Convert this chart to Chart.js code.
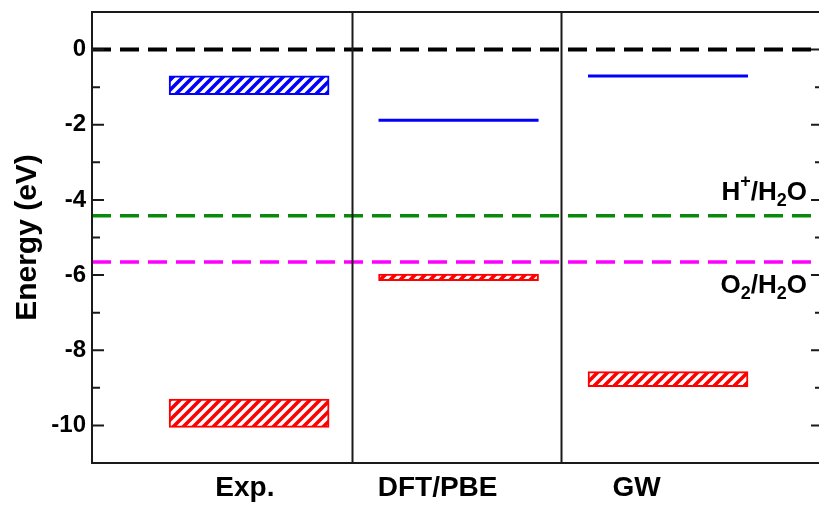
<!DOCTYPE html>
<html>
<head>
<meta charset="utf-8">
<script src="https://cdn.jsdelivr.net/npm/chart.js@4"></script>
<style>
  html, body { margin: 0; padding: 0; background: #fff; overflow: hidden; }
  #wrap { position: relative; width: 826px; height: 509px; }
</style>
</head>
<body>
<div id="wrap"><canvas id="c"></canvas></div>
<script>
// ---- data ----
const categories = ['Exp.', 'DFT/PBE', 'GW'];
// conduction band edge: a measured range for experiment, single levels for theory
const cbRange = [[-0.7, -1.2], null, null];
const cbLevel = [null, -1.88, -0.7];
// valence band edge ranges
const vbRange = [[-9.3, -10.05], [-5.97, -6.15], [-8.57, -8.97]];
// vacuum reference and water redox potentials
const refLevels = [0, -4.42, -5.65];
const refNames = ['', 'H^+/H_2O', 'O_2/H_2O'];
const refColors = ['#000000', '#0a8a0a', '#ff00ff'];
const yTicks = [-10, -8, -6, -4, -2, 0];

// ---- layout ----
const X_MIN = 0.25, X_MAX = 3.74;
const labelPos = [0.98, 1.9, 2.85];      // where the category names sit on the x axis
const levelHalf = 0.382;                 // half length of a single-level line
const dividers = [1.49, 2.49];
const refLabelShift = [0, -16, 31];      // label baseline relative to its line (px)
const FONT = "'Liberation Sans', Arial, Helvetica, sans-serif";

function hatch(color) {
  const s = 10;
  const c = document.createElement('canvas');
  c.width = s; c.height = s;
  const g = c.getContext('2d');
  g.fillStyle = '#ffffff';
  g.fillRect(0, 0, s, s);
  g.strokeStyle = color;
  g.lineWidth = 3.6;
  g.beginPath();
  g.moveTo(-s, s); g.lineTo(s, -s);
  g.moveTo(0, s * 2); g.lineTo(s * 2, 0);
  g.moveTo(0, s); g.lineTo(s, 0);
  g.stroke();
  return g.createPattern(c, 'repeat');
}

const ctx0 = document.getElementById('c').getContext('2d');
const datasets = [];

datasets.push({
  type: 'bar',
  label: 'VB',
  data: vbRange.map((r, i) => ({ x: i + 1, y: r })),
  backgroundColor: hatch('#ff0000'),
  borderColor: '#ff0000',
  borderWidth: 2,
  borderSkipped: false,
  barThickness: 160,
  grouped: false
});

datasets.push({
  type: 'bar',
  label: 'CB',
  data: cbRange.map((r, i) => r ? { x: i + 1, y: r } : null).filter(Boolean),
  backgroundColor: hatch('#0000ff'),
  borderColor: '#0000ff',
  borderWidth: 2,
  borderSkipped: false,
  barThickness: 160,
  grouped: false
});

cbLevel.forEach((v, i) => {
  if (v === null) return;
  datasets.push({
    type: 'line',
    label: 'CB ' + categories[i],
    data: [{ x: i + 1 - levelHalf, y: v }, { x: i + 1 + levelHalf, y: v }],
    borderColor: '#0000ff',
    borderWidth: 3,
    pointRadius: 0
  });
});

refLevels.forEach((v, i) => {
  datasets.push({
    type: 'line',
    label: refNames[i] || 'vacuum',
    data: [{ x: X_MIN, y: v }, { x: X_MAX, y: v }],
    borderColor: refColors[i],
    borderWidth: i === 0 ? 4 : 3.5,
    borderDash: [19, 9],
    borderCapStyle: 'butt',
    pointRadius: 0
  });
});

// frame, dividers and inward tick marks
const framePlugin = {
  id: 'frame',
  afterDatasetsDraw(chart) {
    const { ctx, chartArea: { left, right, top, bottom }, scales: { x, y } } = chart;
    ctx.save();
    ctx.strokeStyle = '#1a1a1a';
    ctx.lineWidth = 2;
    ctx.strokeRect(left, top, right - left, bottom - top);
    ctx.beginPath();
    dividers.forEach(v => {
      const px = Math.round(x.getPixelForValue(v)) + 0.5;
      ctx.moveTo(px, top); ctx.lineTo(px, bottom);
    });
    for (let v = -10; v <= 0; v++) {
      const py = y.getPixelForValue(v);
      const len = v % 2 === 0 ? 12 : 8;
      ctx.moveTo(left, py); ctx.lineTo(left + len, py);
      ctx.moveTo(right, py); ctx.lineTo(right - len, py);
    }
    ctx.stroke();
    ctx.restore();
  }
};

// redox labels with super- and subscripts (^x, _x)
function parseLabel(s) {
  const out = [];
  let i = 0;
  while (i < s.length) {
    if ((s[i] === '^' || s[i] === '_') && i + 1 < s.length) {
      out.push({ t: s[i + 1], k: s[i] === '^' ? 'sup' : 'sub' });
      i += 2;
    } else {
      if (out.length && out[out.length - 1].k === 'n') out[out.length - 1].t += s[i];
      else out.push({ t: s[i], k: 'n' });
      i++;
    }
  }
  return out;
}

const labelPlugin = {
  id: 'refLabels',
  afterDatasetsDraw(chart) {
    const { ctx, chartArea: { right }, scales: { y } } = chart;
    const big = 'bold 26px ' + FONT, small = 'bold 18px ' + FONT;
    ctx.save();
    ctx.fillStyle = '#000';
    ctx.textBaseline = 'alphabetic';
    ctx.textAlign = 'left';
    refNames.forEach((name, i) => {
      if (!name) return;
      const parts = parseLabel(name);
      let w = 0;
      parts.forEach(p => { ctx.font = p.k === 'n' ? big : small; p.w = ctx.measureText(p.t).width; w += p.w; });
      let px = right - 16 - w;
      const base = y.getPixelForValue(refLevels[i]) + refLabelShift[i];
      parts.forEach(p => {
        ctx.font = p.k === 'n' ? big : small;
        const dy = p.k === 'sup' ? -13 : p.k === 'sub' ? 6 : 0;
        ctx.fillText(p.t, px, base + dy);
        px += p.w;
      });
    });
    ctx.restore();
  }
};

new Chart(ctx0, {
  type: 'bar',
  data: { datasets },
  options: {
    responsive: true,
    maintainAspectRatio: false,
    animation: false,
    layout: { padding: { top: 12, right: 3, left: 0, bottom: 0 } },
    plugins: { legend: { display: false }, tooltip: { enabled: false } },
    scales: {
      x: {
        type: 'linear',
        min: X_MIN,
        max: X_MAX,
        offset: false,
        grid: { display: false, drawTicks: false, offset: false },
        border: { display: false },
        afterBuildTicks: s => { s.ticks = labelPos.map(v => ({ value: v })); },
        afterFit: s => { s.height = 46; s.paddingLeft = 0; s.paddingRight = 0; },
        ticks: {
          autoSkip: false,
          maxRotation: 0,
          padding: 8,
          color: '#000',
          font: { family: FONT, size: 28, weight: 'bold' },
          callback: (v, i) => categories[i]
        }
      },
      y: {
        type: 'linear',
        min: -11,
        max: 1,
        grid: { display: false, drawTicks: false },
        border: { display: false },
        afterBuildTicks: s => { s.ticks = yTicks.map(v => ({ value: v })); },
        afterFit: s => { s.width = 92; s.paddingTop = 0; s.paddingBottom = 0; },
        ticks: {
          padding: 6,
          color: '#000',
          font: { family: FONT, size: 24, weight: 'bold' },
          callback: v => String(v)
        },
        title: {
          display: true,
          text: 'Energy (eV)',
          color: '#000',
          padding: { top: 10, bottom: 0 },
          font: { family: FONT, size: 30, weight: 'bold' }
        }
      }
    }
  },
  plugins: [framePlugin, labelPlugin]
});
</script>
</body>
</html>
